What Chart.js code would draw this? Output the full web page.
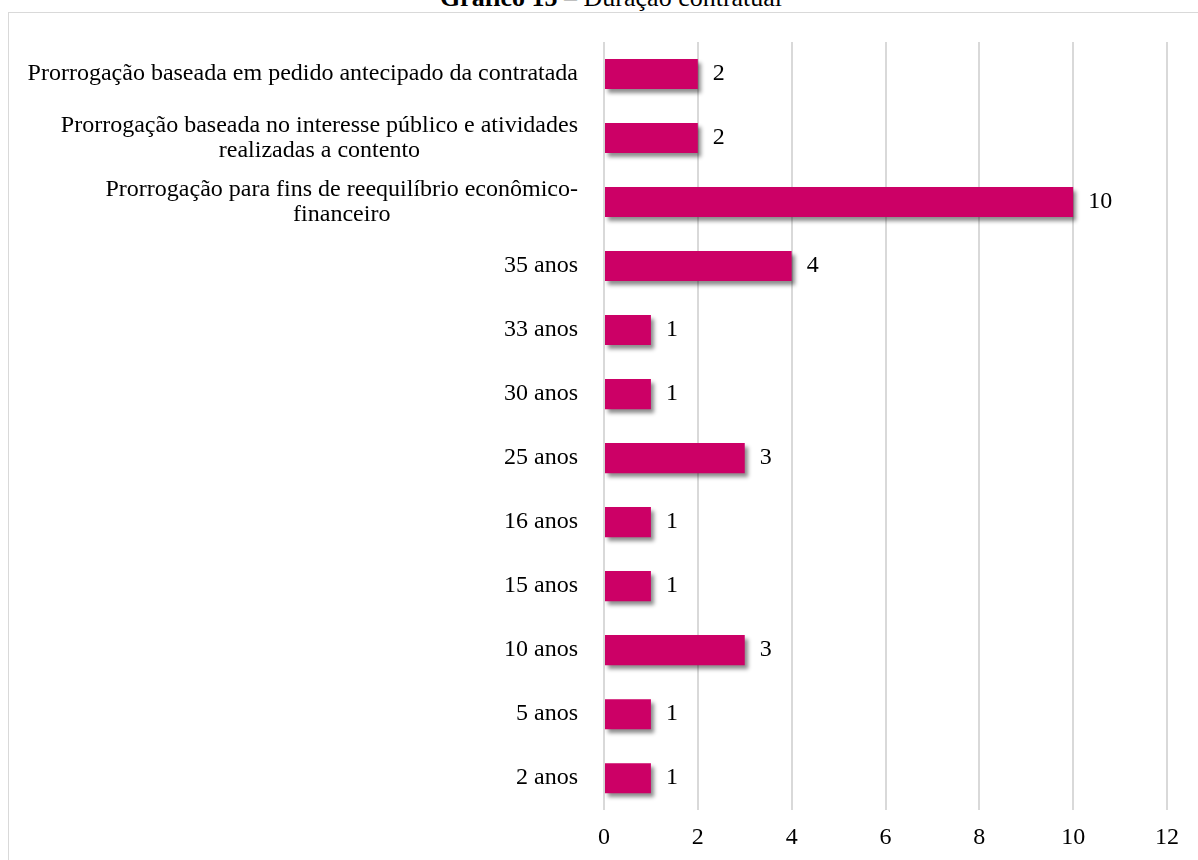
<!DOCTYPE html>
<html>
<head>
<meta charset="utf-8">
<script src="https://cdn.jsdelivr.net/npm/chart.js@4.4.0/dist/chart.umd.min.js"></script>
<style>
  body { margin: 0; background: #fff; overflow: hidden; }
  #wrap { position: relative; width: 1198px; height: 860px; }
  #titulo {
    position: absolute; left: 0; width: 1222px; top: -15px;
    text-align: center; font: 26px "Liberation Serif", "Times New Roman", serif;
    line-height: 26px; color: #000; white-space: nowrap;
  }
  #moldura {
    position: absolute; left: 8px; top: 12px; width: 1300px; height: 1000px;
    border: 1px solid #d9d9d9;
  }
  canvas { position: absolute; left: 0; top: 0; }
</style>
</head>
<body>
<div id="wrap">
  <div id="titulo"><b>Gráfico 15</b> – Duração contratual</div>
  <div id="moldura"></div>
  <canvas id="myChart" width="1198" height="860"></canvas>
</div>
<script>
// categorias (de cima para baixo)
var categorias = [
	["Prorrogação baseada em pedido antecipado da contratada"],
	["Prorrogação baseada no interesse público e atividades", "realizadas a contento"],
	["Prorrogação para fins de reequilíbrio econômico-", "financeiro"],
	["35 anos"],
	["33 anos"],
	["30 anos"],
	["25 anos"],
	["16 anos"],
	["15 anos"],
	["10 anos"],
	["5 anos"],
	["2 anos"]
];
var quantidade = [2, 2, 10, 4, 1, 1, 3, 1, 1, 3, 1, 1];
var ticksX = [0, 2, 4, 6, 8, 10, 12];

var fonte = '24px "Liberation Serif", "Times New Roman", serif';

// sombra nas barras
var sombra = {
	id: 'sombra',
	beforeDatasetsDraw: function(chart) {
		var ctx = chart.ctx;
		ctx.save();
		ctx.shadowColor = 'rgba(0,0,0,0.45)';
		ctx.shadowOffsetX = 3;
		ctx.shadowOffsetY = 4;
		ctx.shadowBlur = 4;
	},
	afterDatasetsDraw: function(chart) {
		chart.ctx.restore();
	}
};

// rotulos do eixo y e valores das barras
var rotulos = {
	id: 'rotulos',
	afterDraw: function(chart) {
		var ctx = chart.ctx;
		var y = chart.scales.y;
		var meta = chart.getDatasetMeta(0);
		ctx.save();
		ctx.font = fonte;
		ctx.fillStyle = '#000';
		ctx.textBaseline = 'middle';
		ctx.textAlign = 'center';
		var direita = 578, alturaLinha = 25;
		for (var i = 0; i < categorias.length; i++) {
			var linhas = categorias[i];
			var maxW = 0;
			for (var j = 0; j < linhas.length; j++) {
				maxW = Math.max(maxW, ctx.measureText(linhas[j]).width);
			}
			var cx = direita - maxW / 2;
			var cy = y.getPixelForValue(i);
			var y0 = cy - (linhas.length - 1) * alturaLinha / 2;
			for (var j = 0; j < linhas.length; j++) {
				ctx.fillText(linhas[j], cx, y0 + j * alturaLinha);
			}
		}
		ctx.textAlign = 'left';
		meta.data.forEach(function(bar, i) {
			ctx.fillText(String(quantidade[i]), bar.x + 15, bar.y);
		});
		ctx.restore();
	}
};

var ctx = document.getElementById('myChart');
var grafico = new Chart(ctx, {
	type: 'bar',
	data: {
		labels: categorias.map(function(c) { return c.join(' '); }),
		datasets: [{
			data: quantidade,
			backgroundColor: '#CC0066',
			borderWidth: 0,
			barPercentage: 0.47,
			categoryPercentage: 1
		}]
	},
	options: {
		indexAxis: 'y',
		responsive: false,
		animation: false,
		layout: { padding: { left: 604, right: 31, top: 42, bottom: -5 } },
		plugins: {
			legend: { display: false },
			tooltip: { enabled: false }
		},
		scales: {
			y: { display: false },
			x: {
				min: 0,
				max: 12,
				afterBuildTicks: function(axis) {
					axis.ticks = ticksX.map(function(v) { return { value: v }; });
				},
				grid: { color: '#d9d9d9', lineWidth: 2, drawTicks: false },
				border: { display: false },
				ticks: {
					color: '#000',
					padding: 13,
					font: { family: '"Liberation Serif", "Times New Roman", serif', size: 24 }
				}
			}
		}
	},
	plugins: [sombra, rotulos]
});
</script>
</body>
</html>
